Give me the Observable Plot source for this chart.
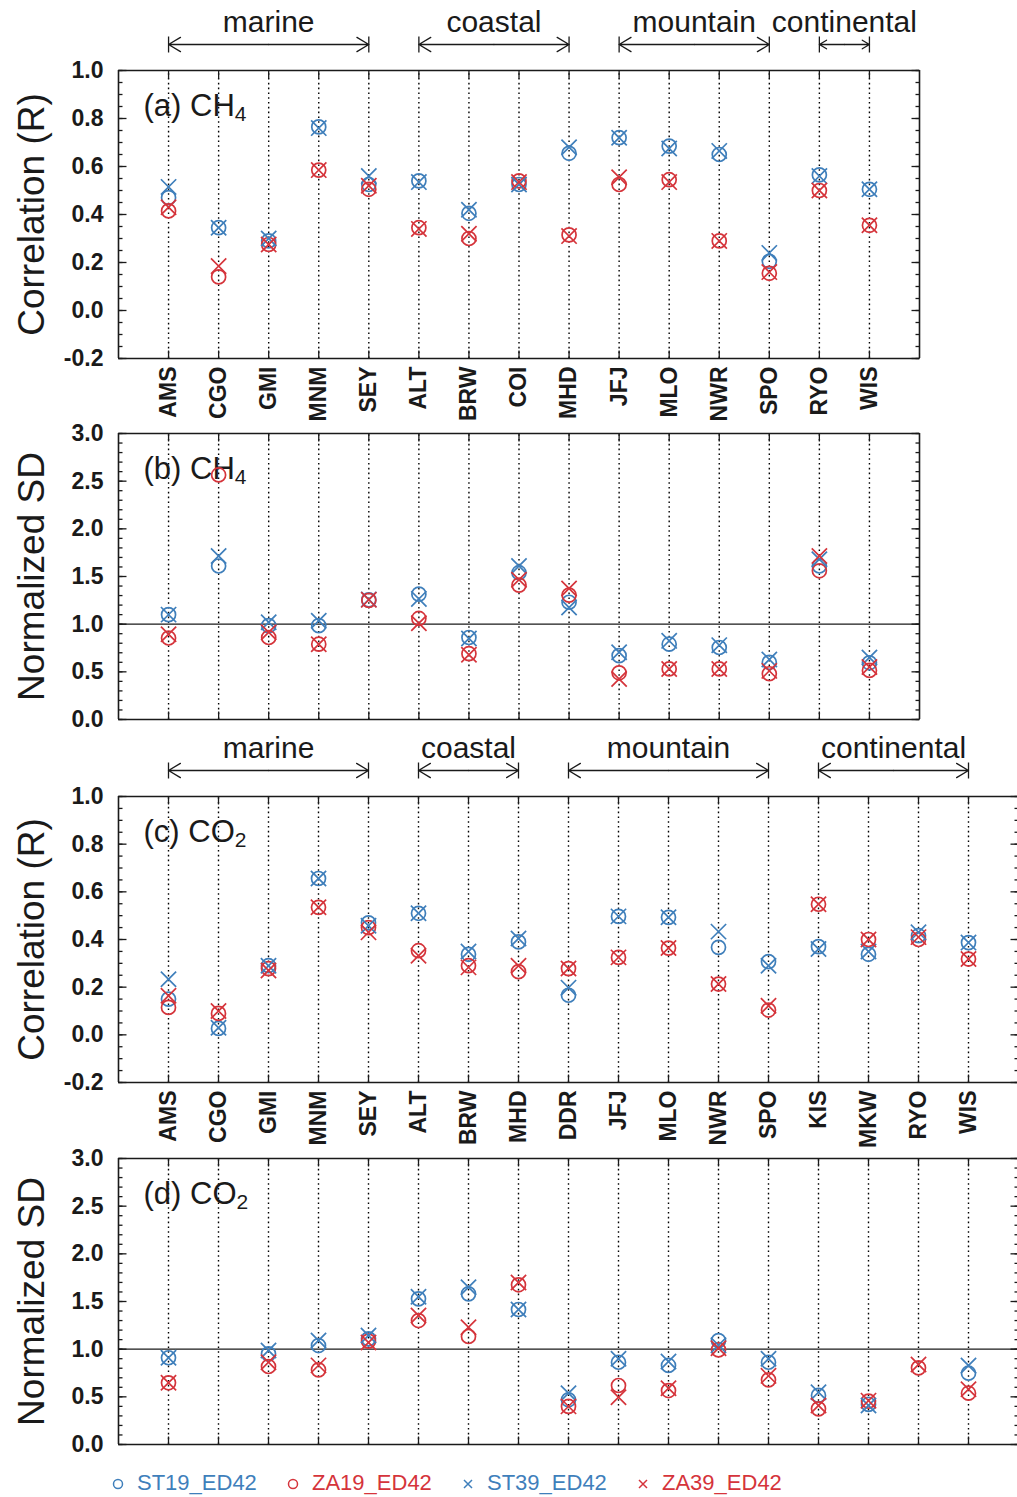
<!DOCTYPE html>
<html><head><meta charset="utf-8">
<script src="https://cdn.jsdelivr.net/npm/d3@7"></script>
<script src="https://cdn.jsdelivr.net/npm/@observablehq/plot@0.6"></script>
<style>
body{margin:0;background:#fff;font-family:Arial,"Liberation Sans",sans-serif;}
#chart{position:relative;width:1017px;height:1497px;overflow:hidden;background:#fff}
#chart > div{position:absolute;left:0}
svg{display:block}
.leg{position:absolute;top:1469px;font-size:22px;white-space:nowrap;line-height:28px}
.leg svg{display:inline-block;vertical-align:middle;margin-right:12px}
</style></head><body><div id="chart"></div>
<script>
// ---------- data ----------
const seriesNames = ["ST19_ED42", "ZA19_ED42", "ST39_ED42", "ZA39_ED42"];
const seriesColors = ["#3f7fbb", "#d5343b", "#3f7fbb", "#d5343b"];
const seriesSymbols = ["circle", "circle", "times", "times"];

const groupNames = ["marine", "coastal", "mountain", "continental"];

const stationsCH4 = ["AMS","CGO","GMI","MNM","SEY","ALT","BRW","COI","MHD","JFJ","MLO","NWR","SPO","RYO","WIS"];
const groupStartCH4 = ["AMS", "ALT", "JFJ", "RYO"];
const groupEndCH4 = ["SEY", "MHD", "SPO", "WIS"];

const ch4R_ST19 = [0.47, 0.345, 0.29, 0.765, 0.525, 0.54, 0.405, 0.525, 0.655, 0.72, 0.685, 0.65, 0.205, 0.565, 0.505];
const ch4R_ZA19 = [0.415, 0.14, 0.275, 0.585, 0.505, 0.345, 0.30, 0.54, 0.315, 0.525, 0.545, 0.29, 0.155, 0.50, 0.355];
const ch4R_ST39 = [0.515, 0.345, 0.30, 0.76, 0.56, 0.535, 0.42, 0.525, 0.68, 0.72, 0.675, 0.665, 0.24, 0.56, 0.505];
const ch4R_ZA39 = [0.43, 0.185, 0.275, 0.585, 0.52, 0.34, 0.32, 0.535, 0.31, 0.555, 0.535, 0.29, 0.16, 0.50, 0.355];

const ch4SD_ST19 = [1.10, 1.61, 0.985, 0.985, 1.255, 1.315, 0.86, 1.54, 1.23, 0.67, 0.79, 0.755, 0.60, 1.61, 0.595];
const ch4SD_ZA19 = [0.855, 2.565, 0.86, 0.79, 1.25, 1.06, 0.69, 1.41, 1.305, 0.49, 0.53, 0.53, 0.48, 1.56, 0.515];
const ch4SD_ST39 = [1.10, 1.715, 1.02, 1.035, 1.26, 1.265, 0.85, 1.61, 1.175, 0.705, 0.825, 0.78, 0.63, 1.68, 0.65];
const ch4SD_ZA39 = [0.895, null, 0.915, 0.79, 1.255, 1.01, 0.68, 1.465, 1.375, 0.425, 0.53, 0.53, 0.51, 1.715, 0.55];

const stationsCO2 = ["AMS","CGO","GMI","MNM","SEY","ALT","BRW","MHD","DDR","JFJ","MLO","NWR","SPO","KIS","MKW","RYO","WIS"];
const groupStartCO2 = ["AMS", "ALT", "DDR", "KIS"];
const groupEndCO2 = ["SEY", "MHD", "SPO", "WIS"];

const co2R_ST19 = [0.15, 0.027, 0.29, 0.656, 0.47, 0.51, 0.338, 0.39, 0.166, 0.497, 0.493, 0.367, 0.307, 0.37, 0.338, 0.416, 0.387];
const co2R_ZA19 = [0.115, 0.09, 0.278, 0.535, 0.45, 0.353, 0.29, 0.265, 0.278, 0.325, 0.364, 0.213, 0.104, 0.548, 0.40, 0.40, 0.318];
const co2R_ST39 = [0.233, 0.03, 0.29, 0.656, 0.458, 0.51, 0.35, 0.404, 0.198, 0.497, 0.493, 0.433, 0.29, 0.36, 0.35, 0.43, 0.387];
const co2R_ZA39 = [0.164, 0.10, 0.27, 0.535, 0.43, 0.332, 0.283, 0.29, 0.278, 0.325, 0.364, 0.213, 0.122, 0.548, 0.40, 0.41, 0.318];

const co2SD_ST19 = [0.91, null, 0.951, 1.038, 1.108, 1.528, 1.58, 1.416, 0.469, 0.863, 0.829, 1.09, 0.863, 0.515, 0.42, null, 0.748];
const co2SD_ZA19 = [0.647, null, 0.818, 0.783, 1.084, 1.30, 1.133, 1.675, 0.399, 0.619, 0.566, 0.993, 0.678, 0.374, 0.455, 0.804, 0.538];
const co2SD_ST39 = [0.91, null, 0.986, 1.09, 1.143, 1.55, 1.65, 1.416, 0.538, 0.90, 0.87, 1.04, 0.90, 0.549, 0.41, null, 0.829];
const co2SD_ZA39 = [0.647, null, 0.863, 0.83, 1.07, 1.353, 1.23, 1.70, 0.40, 0.496, 0.59, 1.01, 0.72, 0.41, 0.46, 0.84, 0.58];

const rTicks = [-0.2, 0.0, 0.2, 0.4, 0.6, 0.8, 1.0];
const sdTicks = [0.0, 0.5, 1.0, 1.5, 2.0, 2.5, 3.0];

// ---------- drawing ----------
const FONT = "Arial, 'Liberation Sans', sans-serif";
const INK = "#1a1a1a";
const seg = (dx, dy) => ({draw(ctx) { ctx.moveTo(0, 0); ctx.lineTo(dx, dy); }});
const vbar = {draw(ctx) { ctx.moveTo(0, -8); ctx.lineTo(0, 8); }};

function makePanel(cfg) {
  const stations = cfg.stations;
  const n = stations.length;
  const xMax = n + 1;
  const pos = s => stations.indexOf(s) + 1;
  const idx = d3.range(1, n + 1);
  const [y0, y1] = cfg.yDomain;
  const minor = d3.range(Math.round((y1 - y0) / cfg.minorStep) + 1).map(i => y0 + i * cfg.minorStep);

  const marks = [];
  marks.push(Plot.ruleX(idx, {x: d => d, y1: () => y0, y2: () => y1, stroke: "#000", strokeWidth: 1.4, strokeDasharray: "1.6,3.2"}));
  if (cfg.refLine != null) marks.push(Plot.ruleY([cfg.refLine], {y: d => d, x1: () => 0, x2: () => xMax, stroke: INK, strokeWidth: 1.4}));
  // frame
  marks.push(Plot.ruleY([y0, y1], {y: d => d, x1: () => 0, x2: () => xMax, stroke: INK, strokeWidth: 1.6}));
  marks.push(Plot.ruleX([0, xMax], {x: d => d, y1: () => y0, y2: () => y1, stroke: INK, strokeWidth: 1.6}));
  // inward ticks
  const tk = {fill: "none", stroke: INK, strokeWidth: 1.3, r: 5};
  marks.push(Plot.dot(cfg.yTicks, {x: () => 0, y: d => d, symbol: seg(8, 0), ...tk}));
  marks.push(Plot.dot(minor, {x: () => 0, y: d => d, symbol: seg(4, 0), ...tk}));
  marks.push(Plot.dot(cfg.yTicks, {x: () => xMax, y: d => d, symbol: seg(-8, 0), ...tk}));
  marks.push(Plot.dot(minor, {x: () => xMax, y: d => d, symbol: seg(-4, 0), ...tk}));
  marks.push(Plot.dot(idx, {x: d => d, y: () => y1, symbol: seg(0, 8), ...tk}));
  marks.push(Plot.dot(idx, {x: d => d, y: () => y0, symbol: seg(0, -8), ...tk}));
  // y tick labels
  marks.push(Plot.axisY({ticks: cfg.yTicks, tickSize: 0, tickPadding: 15, tickFormat: d => d.toFixed(1),
    fontSize: 23, fontWeight: "bold", fill: INK, label: null}));
  // y title
  marks.push(Plot.text([cfg.yLabel], {frameAnchor: "left", rotate: -90, dx: -86, textAnchor: "middle", lineAnchor: "middle",
    fontSize: 37, fill: INK}));
  // panel label
  marks.push(Plot.text([cfg.labelMain + cfg.labelSub], {frameAnchor: "top-left", dx: 25, dy: 36, textAnchor: "start",
    lineAnchor: "middle", fontSize: 31, fill: INK}));
  // station labels
  if (cfg.showStations) {
    marks.push(Plot.text(stations, {x: (d, i) => i + 1, y: () => y0, text: d => d, rotate: -90, textAnchor: "end",
      lineAnchor: "middle", dy: 8, fontWeight: "bold", fontSize: 23, fill: INK}));
  }
  // group header
  if (cfg.groups) {
    const g = cfg.groups.names.map((name, i) => ({name, s: pos(cfg.groups.start[i]), e: pos(cfg.groups.end[i])}));
    const ends = g.flatMap(d => [d.s, d.e]);
    const ar = {y1: () => y1, y2: () => y1, dy: -26, stroke: INK, strokeWidth: 1.3, headLength: 16, headAngle: 62};
    marks.push(Plot.arrow(g, {x1: d => (d.s + d.e) / 2, x2: d => d.s, ...ar}));
    marks.push(Plot.arrow(g, {x1: d => (d.s + d.e) / 2, x2: d => d.e, ...ar}));
    marks.push(Plot.dot(ends, {x: d => d, y: () => y1, dy: -26, symbol: vbar, r: 5, fill: "none", stroke: INK, strokeWidth: 1.3}));
    marks.push(Plot.text(g, {x: d => (d.s + d.e) / 2, y: () => y1, dy: -48, text: d => d.name, fontSize: 30, fill: INK}));
  }
  // data points
  seriesNames.forEach((s, k) => {
    const rows = cfg.values[k].map((v, i) => ({x: i + 1, v})).filter(d => d.v != null);
    marks.push(Plot.dot(rows, {x: "x", y: "v", symbol: seriesSymbols[k], r: 7, stroke: seriesColors[k], fill: "none", strokeWidth: 1.7}));
  });

  const svg = Plot.plot({
    width: 1017, height: cfg.height,
    marginLeft: 118, marginRight: Math.max(0, 1017 - cfg.xRight),
    marginTop: cfg.marginTop, marginBottom: cfg.marginBottom,
    style: {fontFamily: FONT, background: "transparent", overflow: "visible"},
    x: {type: "linear", domain: [0, xMax], range: [118, cfg.xRight], axis: null},
    y: {type: "linear", domain: [y0, y1]},
    marks
  });
  // subscript in panel label
  svg.querySelectorAll("text").forEach(t => {
    if (t.textContent === cfg.labelMain + cfg.labelSub) {
      t.textContent = cfg.labelMain;
      const ts = document.createElementNS("http://www.w3.org/2000/svg", "tspan");
      ts.setAttribute("dy", "5");
      ts.setAttribute("font-size", "21");
      ts.textContent = cfg.labelSub;
      t.appendChild(ts);
    }
  });
  const wrap = document.createElement("div");
  wrap.style.top = cfg.top + "px";
  wrap.appendChild(svg);
  document.getElementById("chart").appendChild(wrap);
}

makePanel({top: 0, height: 430, marginTop: 70, marginBottom: 72, xRight: 919,
  stations: stationsCH4, values: [ch4R_ST19, ch4R_ZA19, ch4R_ST39, ch4R_ZA39],
  yDomain: [-0.2, 1.0], yTicks: rTicks, minorStep: 0.05, yLabel: "Correlation (R)",
  labelMain: "(a) CH", labelSub: "4", showStations: true,
  groups: {names: groupNames, start: groupStartCH4, end: groupEndCH4}});

makePanel({top: 430, height: 295, marginTop: 3, marginBottom: 6, xRight: 919,
  stations: stationsCH4, values: [ch4SD_ST19, ch4SD_ZA19, ch4SD_ST39, ch4SD_ZA39],
  yDomain: [0, 3.0], yTicks: sdTicks, minorStep: 0.1, yLabel: "Normalized SD", refLine: 1.0,
  labelMain: "(b) CH", labelSub: "4", showStations: false});

makePanel({top: 725, height: 430, marginTop: 71, marginBottom: 73, xRight: 1018,
  stations: stationsCO2, values: [co2R_ST19, co2R_ZA19, co2R_ST39, co2R_ZA39],
  yDomain: [-0.2, 1.0], yTicks: rTicks, minorStep: 0.05, yLabel: "Correlation (R)",
  labelMain: "(c) CO", labelSub: "2", showStations: true,
  groups: {names: groupNames, start: groupStartCO2, end: groupEndCO2}});

makePanel({top: 1155, height: 296, marginTop: 3, marginBottom: 7, xRight: 1018,
  stations: stationsCO2, values: [co2SD_ST19, co2SD_ZA19, co2SD_ST39, co2SD_ZA39],
  yDomain: [0, 3.0], yTicks: sdTicks, minorStep: 0.1, yLabel: "Normalized SD", refLine: 1.0,
  labelMain: "(d) CO", labelSub: "2", showStations: false});

// legend
seriesNames.forEach((s, k) => {
  const item = document.createElement("div");
  item.className = "leg";
  item.style.left = (111 + k * 175) + "px";
  item.style.color = seriesColors[k];
  const sym = seriesSymbols[k] === "circle"
    ? `<circle cx="7" cy="7" r="4.5" fill="none" stroke="${seriesColors[k]}" stroke-width="1.5"/>`
    : `<path d="M3,3L11,11M11,3L3,11" stroke="${seriesColors[k]}" stroke-width="1.5"/>`;
  item.innerHTML = `<svg width="14" height="14">${sym}</svg>${s}`;
  document.getElementById("chart").appendChild(item);
});
</script>
</body></html>
